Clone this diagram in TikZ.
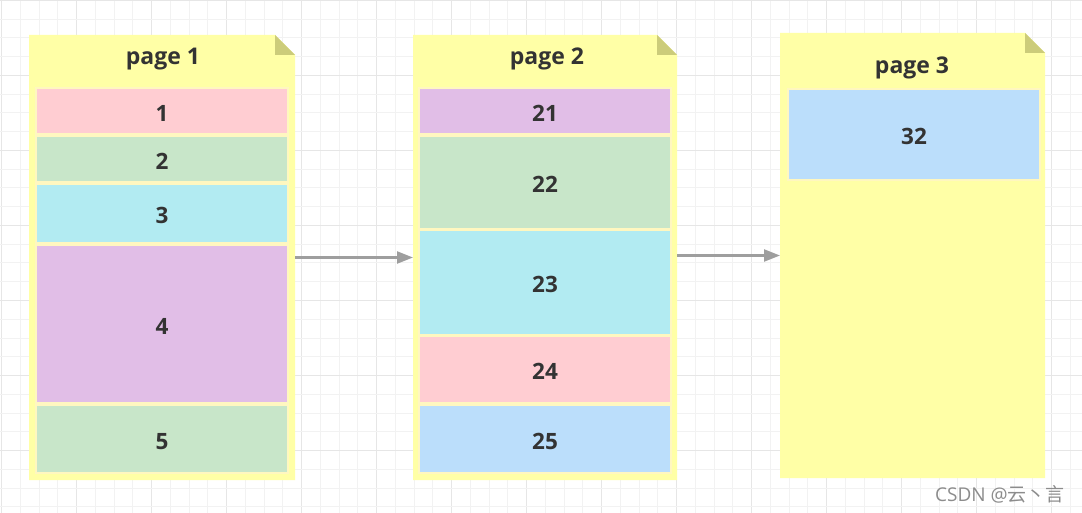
\documentclass[tikz,border=0pt]{standalone}
\usepackage{fontspec}
\setmainfont{Open Sans}
\newfontfamily\cjk{Noto Sans CJK SC}
\definecolor{pagefill}{HTML}{FFFFA6}
\definecolor{foldc}{HTML}{CCCC7A}
\definecolor{blkline}{HTML}{FFF7C0}
\definecolor{cpink}{HTML}{FFCDD2}
\definecolor{cgreen}{HTML}{C8E6C9}
\definecolor{ccyan}{HTML}{B2EBF2}
\definecolor{cpurple}{HTML}{E1BEE7}
\definecolor{cblue}{HTML}{BBDEFB}
\definecolor{txt}{HTML}{333333}
\definecolor{gminor}{HTML}{F2F2F2}
\definecolor{gmajor}{HTML}{E6E6E6}
\definecolor{arrc}{HTML}{9E9E9E}
\tikzset{
  pagebox/.style={minimum width=#1, minimum height=445, anchor=north west, inner sep=0pt, outer sep=0pt},
  blk/.style={draw=blkline, line width=1.5pt, anchor=north west, inner sep=0pt, outer sep=0pt,
              text height=20.5pt, text depth=0pt,
              font=\bfseries\fontsize{22.5}{24}\selectfont, text=txt},
  ttl/.style={font=\bfseries\fontsize{23}{25}\selectfont, text=txt, inner sep=0pt},
  arr/.style={draw=arrc, line width=2.2pt, -{Triangle[length=16pt,width=12pt]}},
}
\usetikzlibrary{arrows.meta}
\newcommand\mkpage[1]{%
  \fill[pagefill] (#1.north west) -- ([xshift=-20pt]#1.north east) -- ([yshift=-20pt]#1.north east) -- (#1.south east) -- (#1.south west) -- cycle;
  \fill[foldc] ([xshift=-20pt]#1.north east) -- ([yshift=-20pt]#1.north east) -- ([xshift=-20pt,yshift=-20pt]#1.north east) -- cycle;
}
\begin{document}
\begin{tikzpicture}[x=1pt,y=-1pt]
\useasboundingbox (0,0) rectangle (1082,513);
\fill[white] (0,0) rectangle (1082,513);
% grid
\foreach \i in {0,...,57} {
  \pgfmathsetmacro\xx{1.7+18.75*\i}
  \pgfmathtruncatemacro\mm{mod(\i,4)}
  \ifnum\mm=0 \draw[gmajor,line width=1pt] (\xx,0) -- (\xx,513); \else \draw[gminor,line width=1pt] (\xx,0) -- (\xx,513); \fi
}
\foreach \i in {0,...,27} {
  \pgfmathsetmacro\yy{0.5+18.75*\i}
  \pgfmathtruncatemacro\mm{mod(\i,4)}
  \ifnum\mm=0 \draw[gmajor,line width=1pt] (0,\yy) -- (1082,\yy); \else \draw[gminor,line width=1pt] (0,\yy) -- (1082,\yy); \fi
}
% pages
\node[pagebox=266] (p1) at (29,35) {};
\node[pagebox=264] (p2) at (413,35) {};
\node[pagebox=265] (p3) at (780,33) {};
\mkpage{p1}
\mkpage{p2}
\mkpage{p3}
\node[ttl] (t1) at (163,59) {page 1};
\node[ttl] (t2) at (547,59) {page 2};
\node[ttl] (t3) at (912,68) {page 3};
% page 1 blocks
\node[blk, fill=cpink,   minimum width=252, minimum height=46]  (b1) at (36,88)  {1};
\node[blk, fill=cgreen,  minimum width=252, minimum height=46]  (b2) at (36,136) {2};
\node[blk, fill=ccyan,   minimum width=252, minimum height=59]  (b3) at (36,184) {3};
\node[blk, fill=cpurple, minimum width=252, minimum height=158] (b4) at (36,245) {4};
\node[blk, fill=cgreen,  minimum width=252, minimum height=68]  (b5) at (36,405) {5};
% page 2 blocks
\node[blk, fill=cpurple, minimum width=252, minimum height=46]  (c1) at (419,88)  {21};
\node[blk, fill=cgreen,  minimum width=252, minimum height=93]  (c2) at (419,136) {22};
\node[blk, fill=ccyan,   minimum width=252, minimum height=105] (c3) at (419,230) {23};
\node[blk, fill=cpink,   minimum width=252, minimum height=67]  (c4) at (419,336) {24};
\node[blk, fill=cblue,   minimum width=252, minimum height=68]  (c5) at (419,405) {25};
% page 3 block
\node[blk, fill=cblue,   minimum width=252, minimum height=91]  (d1) at (788,89)  {32};
% arrows
\draw[arr] (p1.east) -- (p2.west);
\draw[arr] (p2.east |- p3.west) -- (p3.west);
% watermark
\node[text=gray!90, font=\fontsize{19}{21}\selectfont, inner sep=0pt] (wm) at (1000,494) {CSDN @{\cjk 云丶言}};
\end{tikzpicture}
\end{document}
